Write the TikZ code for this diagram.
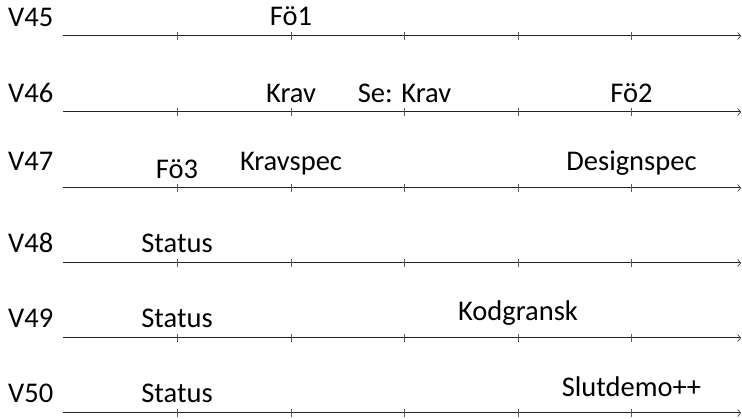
\documentclass[tikz,border=0pt]{standalone}
\usepackage{fontspec}
\setmainfont{Carlito}
\usetikzlibrary{arrows.meta}
\begin{document}
\begin{tikzpicture}[x=1pt,y=-1pt,
  lbl/.style={font=\fontsize{28.5}{31}\selectfont,inner sep=0pt},
  week/.style={lbl,anchor=base west},
  event/.style={lbl,anchor=base},
  axis/.style={line width=1pt,draw=black!85,
    -{Straight Barb[length=3pt,width=7pt,line width=0.6pt]}},
  tickmark/.style={line width=0.8pt,draw=black!65}]
\useasboundingbox (0,0) rectangle (742,419);
% one time axis per week, with ticks at each day
\foreach \i/\y/\b in {45/36/26.5,46/112/102.5,47/188/171,48/263/253,49/338/328,50/413/403}{
  \coordinate (s\i) at (63,\y);
  \coordinate (t\i) at (741,\y);
  \draw[axis] (s\i) -- (t\i);
  \foreach \x in {177,291,404.5,518,631.5}
    \draw[tickmark] (\x,\y-4) -- (\x,\y+4);
  \node[week] (w\i) at (8,\b) {V\i};
}
% events
\node[event] (foe1) at (291,26) {Fö1};
\node[event] (krav) at (291,102.5) {Krav};
\node[event] (sekrav) at (404.5,102.5) {Se: Krav};
\node[event] (foe2) at (631.5,102.5) {Fö2};
\node[event] (foe3) at (177,179) {Fö3};
\node[event] (kravspec) at (291,171) {Kravspec};
\node[event] (designspec) at (631.5,171) {Designspec};
\node[event] (status48) at (177,253) {Status};
\node[event] (status49) at (177,328) {Status};
\node[event] (kodgransk) at (518,321) {Kodgransk};
\node[event] (status50) at (177,403) {Status};
\node[event] (slutdemo) at (631.5,397) {Slutdemo++};
\end{tikzpicture}
\end{document}
